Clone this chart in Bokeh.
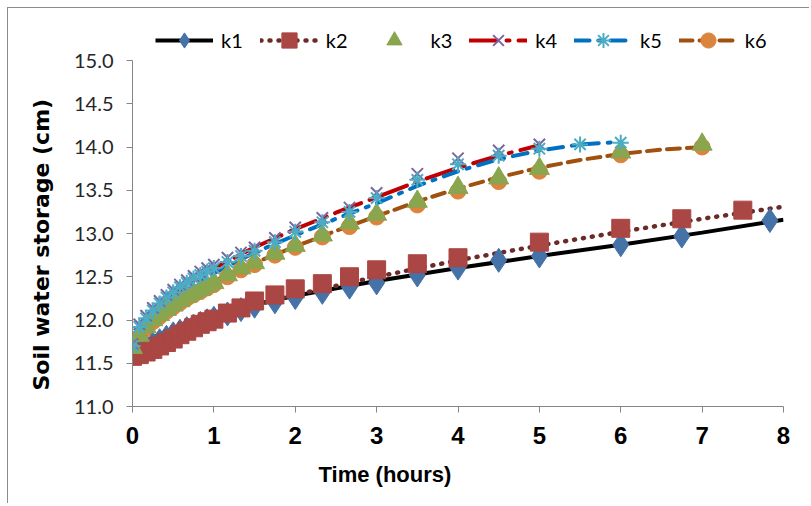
from bokeh.plotting import figure
from bokeh.models import Legend, LegendItem, Title, FixedTicker, NumeralTickFormatter, Range1d
from bokeh.embed import file_html
from bokeh.resources import INLINE

# ---------------- data (hours, cm) ----------------
t_k1 = [0, 0.083, 0.167, 0.25, 0.333, 0.417, 0.5, 0.583, 0.667, 0.75, 0.833, 0.917, 1.0,
        1.167, 1.333, 1.5, 1.75, 2.0, 2.333, 2.667, 3.0, 3.5, 4.0, 4.5, 5.0, 6.0, 6.75, 7.833]
v_k1 = [11.60, 11.64, 11.68, 11.72, 11.76, 11.80, 11.84, 11.87, 11.90, 11.93, 11.96, 11.99, 12.02,
        12.07, 12.12, 12.16, 12.21, 12.26, 12.32, 12.38, 12.43, 12.52, 12.60, 12.69, 12.74, 12.87, 12.97, 13.15]

t_k2 = [0, 0.083, 0.167, 0.25, 0.333, 0.417, 0.5, 0.583, 0.667, 0.75, 0.833, 0.917, 1.0,
        1.167, 1.333, 1.5, 1.75, 2.0, 2.333, 2.667, 3.0, 3.5, 4.0, 5.0, 6.0, 6.75, 7.5]
v_k2 = [11.58, 11.60, 11.63, 11.66, 11.70, 11.74, 11.78, 11.83, 11.87, 11.91, 11.95, 11.98, 12.01,
        12.08, 12.14, 12.22, 12.29, 12.36, 12.42, 12.50, 12.58, 12.65, 12.72, 12.90, 13.06, 13.17, 13.27]

t_k3 = [0, 0.083, 0.167, 0.25, 0.333, 0.417, 0.5, 0.583, 0.667, 0.75, 0.833, 0.917, 1.0,
        1.167, 1.333, 1.5, 1.75, 2.0, 2.333, 2.667, 3.0, 3.5, 4.0, 4.5, 5.0, 6.0, 7.0]
v_k3 = [11.68, 11.82, 11.92, 12.00, 12.06, 12.12, 12.17, 12.22, 12.27, 12.31, 12.35, 12.39, 12.43,
        12.52, 12.60, 12.66, 12.77, 12.86, 12.98, 13.12, 13.22, 13.37, 13.53, 13.64, 13.75, 13.94, 14.03]

t_k4 = [0, 0.083, 0.167, 0.25, 0.333, 0.417, 0.5, 0.583, 0.667, 0.75, 0.833, 0.917, 1.0,
        1.167, 1.333, 1.5, 1.75, 2.0, 2.333, 2.667, 3.0, 3.5, 4.0, 4.5, 5.0]
v_k4 = [11.72, 11.95, 12.05, 12.14, 12.22, 12.29, 12.35, 12.41, 12.46, 12.51, 12.56, 12.60, 12.64,
        12.72, 12.78, 12.84, 12.95, 13.07, 13.18, 13.30, 13.47, 13.69, 13.87, 13.96, 14.03]

t_k5 = [0, 0.083, 0.167, 0.25, 0.333, 0.417, 0.5, 0.583, 0.667, 0.75, 0.833, 0.917, 1.0,
        1.167, 1.333, 1.5, 1.75, 2.0, 2.333, 2.667, 3.0, 3.5, 4.0, 4.5, 5.0, 5.5, 6.0]
v_k5 = [11.70, 11.92, 12.02, 12.11, 12.19, 12.26, 12.32, 12.38, 12.43, 12.48, 12.52, 12.56, 12.60,
        12.67, 12.74, 12.80, 12.90, 13.02, 13.13, 13.25, 13.41, 13.62, 13.80, 13.90, 13.98, 14.03, 14.05]

t_k6 = [0, 0.083, 0.167, 0.25, 0.333, 0.417, 0.5, 0.583, 0.667, 0.75, 0.833, 0.917, 1.0,
        1.167, 1.333, 1.5, 1.75, 2.0, 2.333, 2.667, 3.0, 3.5, 4.0, 4.5, 5.0, 6.0, 7.0]
v_k6 = [11.66, 11.80, 11.90, 11.98, 12.04, 12.10, 12.15, 12.20, 12.25, 12.29, 12.33, 12.37, 12.41,
        12.50, 12.58, 12.64, 12.75, 12.84, 12.96, 13.08, 13.19, 13.33, 13.49, 13.60, 13.72, 13.91, 14.00]

# trend lines
tt_k1 = [0, 0.1, 0.25, 0.5, 1, 1.5, 2, 3, 4, 5, 6, 7, 8]
tv_k1 = [11.62, 11.72, 11.80, 11.90, 12.05, 12.18, 12.28, 12.45, 12.60, 12.74, 12.87, 13.01, 13.16]
tt_k2 = [0, 0.1, 0.25, 0.5, 1, 1.5, 2, 3, 4, 5, 6, 7, 8]
tv_k2 = [11.60, 11.68, 11.76, 11.88, 12.04, 12.17, 12.29, 12.50, 12.69, 12.86, 13.02, 13.17, 13.31]
tt_k4 = [0, 0.1, 0.25, 0.5, 1, 1.5, 2, 2.5, 3, 3.5, 4, 4.5, 5]
tv_k4 = [11.75, 11.95, 12.10, 12.30, 12.60, 12.84, 13.05, 13.24, 13.42, 13.60, 13.76, 13.90, 14.02]
tt_k5 = [0, 0.1, 0.25, 0.5, 1, 1.5, 2, 2.5, 3, 3.5, 4, 4.5, 5, 5.5, 6]
tv_k5 = [11.72, 11.92, 12.06, 12.25, 12.54, 12.78, 12.98, 13.17, 13.35, 13.55, 13.72, 13.86, 13.96, 14.03, 14.06]
tt_k6 = [0, 0.1, 0.25, 0.5, 1, 1.5, 2, 2.5, 3, 3.5, 4, 4.5, 5, 5.5, 6, 6.5, 7]
tv_k6 = [11.70, 11.86, 12.00, 12.18, 12.45, 12.66, 12.85, 13.03, 13.20, 13.37, 13.52, 13.65, 13.76, 13.85, 13.92, 13.97, 14.00]

x_ticks = [0, 1, 2, 3, 4, 5, 6, 7, 8]
y_ticks = [11.0, 11.5, 12.0, 12.5, 13.0, 13.5, 14.0, 14.5, 15.0]
x_title = "Time (hours)"
y_title = "Soil water storage (cm)"

# ---------------- figure ----------------
W, H = 802, 496
FRAME_H = 398                       # frame from canvas top to the x axis
DATA_H = 346                        # pixels covered by 11..15
y_top = 11 + 4 * FRAME_H / DATA_H   # extra room above 15.0 holds the legend
p = figure(width=W, height=H, output_backend="svg", toolbar_location=None,
           x_range=Range1d(0, 8), y_range=Range1d(11, y_top),
           min_border_left=124, min_border_right=W - 775, min_border_top=0,
           min_border_bottom=H - FRAME_H)
p.background_fill_color = "white"
p.border_fill_color = "white"
p.outline_line_color = None
p.grid.visible = False
p.styles = {"margin-left": "7px", "margin-top": "7px",
            "border-left": "1px solid #8c8c8c", "border-top": "1px solid #8c8c8c"}

axis_col = "#868686"
narrow = "'Liberation Sans Narrow', 'Arial Narrow', 'Liberation Sans', sans-serif"
xa = p.xaxis[0]
xa.ticker = FixedTicker(ticks=x_ticks)
xa.axis_line_color = axis_col
xa.axis_line_width = 1
xa.major_tick_line_color = axis_col
xa.major_tick_in = 0
xa.major_tick_out = 6
xa.minor_tick_line_color = None
xa.major_label_text_font = narrow
xa.major_label_text_font_style = "bold"
xa.major_label_text_font_size = "24px"
xa.major_label_text_color = "black"
xa.major_label_standoff = 14

ya = p.yaxis[0]
ya.ticker = FixedTicker(ticks=y_ticks)
ya.bounds = (11, 15)
ya.formatter = NumeralTickFormatter(format="0.0")
ya.axis_line_color = axis_col
ya.major_tick_line_color = axis_col
ya.major_tick_in = 0
ya.major_tick_out = 6
ya.minor_tick_line_color = None
ya.major_label_text_font = "Lato"
ya.major_label_text_font_size = "20px"
ya.major_label_text_color = "#262626"
ya.major_label_standoff = 13

# ---------------- trend lines ----------------
l1 = p.line(tt_k1, tv_k1, line_color="black", line_width=4)
l2 = p.line(tt_k2, tv_k2, line_color="#6B2A28", line_width=4.5, line_dash="1 8", line_cap="round")
l4 = p.line(tt_k4, tv_k4, line_color="#C00000", line_width=4, line_dash="28 9 3 9", line_cap="round")
l5 = p.line(tt_k5, tv_k5, line_color="#0070C0", line_width=4, line_dash="15 9 3 9", line_cap="round")
l6 = p.line(tt_k6, tv_k6, line_color="#A0500F", line_width=4, line_dash="13 7", line_cap="round")

# ---------------- markers ----------------
m6 = p.scatter(t_k6, v_k6, marker="circle", size=16, fill_color="#DB843D", line_color="#DB843D")
m1 = p.scatter(t_k1, v_k1, marker="diamond", size=24, fill_color="#4572A7", line_color="#4572A7")
m2 = p.scatter(t_k2, v_k2, marker="square", size=18, fill_color="#AA4643", line_color="#AA4643")
m3 = p.scatter(t_k3, v_k3, marker="triangle", size=20, fill_color="#89A54E", line_color="#89A54E")
m4 = p.scatter(t_k4, v_k4, marker="x", size=16, line_color="#7E64A0", line_width=2)
m5 = p.scatter(t_k5, v_k5, marker="asterisk", size=16, line_color="#4BACC6", line_width=2)

legend = Legend(items=[
    LegendItem(label="k1", renderers=[l1, m1]),
    LegendItem(label="k2", renderers=[l2, m2]),
    LegendItem(label="k3", renderers=[m3]),
    LegendItem(label="k4", renderers=[l4, m4]),
    LegendItem(label="k5", renderers=[l5, m5]),
    LegendItem(label="k6", renderers=[l6, m6]),
], orientation="horizontal", location=(23, 347))
legend.glyph_width = 58
legend.glyph_height = 38
legend.label_standoff = 8
legend.spacing = 17
legend.padding = 0
legend.margin = 0
legend.border_line_alpha = 0
legend.background_fill_alpha = 0
legend.label_text_font = "Lato"
legend.label_text_font_size = "20px"
legend.label_text_color = "black"
p.add_layout(legend, "center")

# axis titles
xt = Title(text=x_title, align="left", offset=186, standoff=26,
           text_font=narrow, text_font_style="bold", text_font_size="22px", text_color="black")
p.add_layout(xt, "below")
yt = Title(text=y_title, align="left", offset=16, standoff=33,
           text_font="DejaVu Sans", text_font_style="bold", text_font_size="22px", text_color="black")
p.add_layout(yt, "left")

open("out.html", "w").write(file_html(p, INLINE))
